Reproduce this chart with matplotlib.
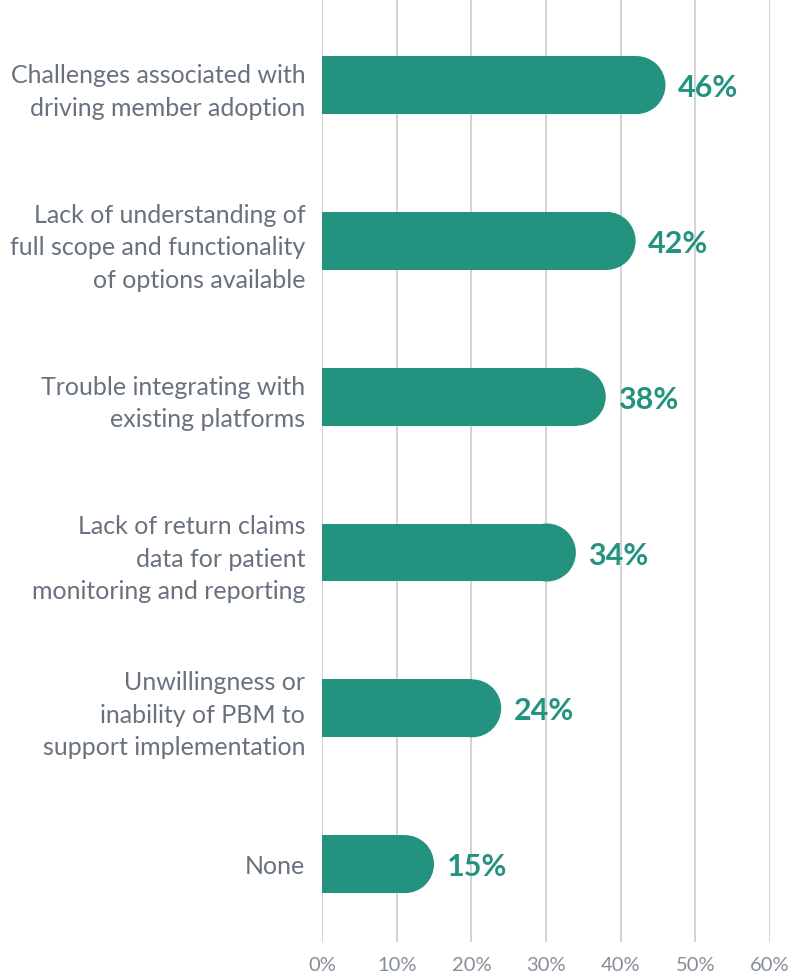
import matplotlib.pyplot as plt
from matplotlib.patches import Ellipse

categories = [
    "Challenges associated with\ndriving member adoption",
    "Lack of understanding of\nfull scope and functionality\nof options available",
    "Trouble integrating with\nexisting platforms",
    "Lack of return claims\ndata for patient\nmonitoring and reporting",
    "Unwillingness or\ninability of PBM to\nsupport implementation",
    "None",
]
values = [46, 42, 38, 34, 24, 15]
xticks = [0, 10, 20, 30, 40, 50, 60]

teal = "#23927f"
gray = "#68727e"

fig = plt.figure(figsize=(8.04, 9.77), dpi=100)
ax = fig.add_axes([0.4005, 0.0358, 0.5572, 0.9642])
ax.set_xlim(0, 60)
ax.set_ylim(5.5, -0.546)

ax.set_xticks(xticks)
ax.set_xticklabels([f"{t}%" for t in xticks])
ax.grid(axis="x", color="#cccccc", linewidth=1.2)
ax.set_axisbelow(True)
for s in ax.spines.values():
    s.set_visible(False)
ax.tick_params(axis="x", length=0, pad=11, labelsize=14.5, labelcolor="#858e98")
ax.tick_params(axis="y", length=0, pad=12, labelsize=18, labelcolor=gray)
for lbl in ax.get_xticklabels():
    lbl.set_fontfamily("Lato")

ypos = list(range(len(categories)))
ax.set_yticks(ypos)
ax.set_yticklabels(categories)
for lbl in ax.get_yticklabels():
    lbl.set_fontfamily("Lato")
    lbl.set_multialignment("right")
    lbl.set_linespacing(1.5)

bar_h = 0.372
# half height of the bar in pixels -> radius of the cap in x data units
fig.canvas.draw()
px_per_x = ax.transData.transform((1, 0))[0] - ax.transData.transform((0, 0))[0]
px_per_y = abs(ax.transData.transform((0, 1))[1] - ax.transData.transform((0, 0))[1])
r_px = bar_h / 2 * px_per_y
rx = r_px / px_per_x

for y, v in zip(ypos, values):
    ax.barh(y, v - rx, height=bar_h, color=teal, linewidth=0)
    ax.add_patch(Ellipse((v - rx, y), 2 * rx, bar_h, color=teal, linewidth=0))
    ax.annotate(f"{v}%", (v, y + 0.02), xytext=(9, 0), textcoords="offset points",
                ha="left", va="center", color=teal, fontsize=22,
                fontweight="bold", fontfamily="Lato")

fig.savefig("out.png", dpi=100)
